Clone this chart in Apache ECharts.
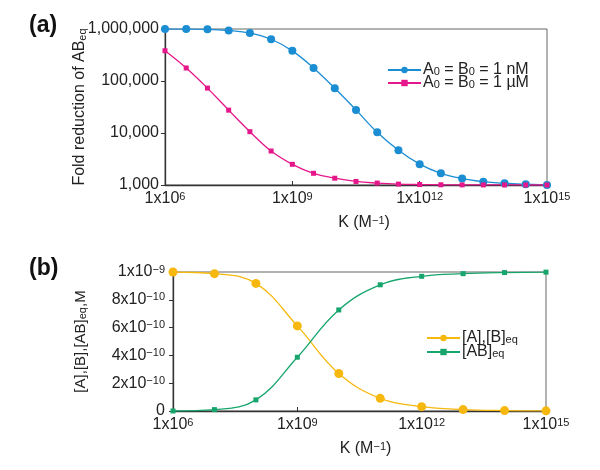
<!DOCTYPE html>
<html>
<head>
<meta charset="utf-8">
<script src="https://cdn.jsdelivr.net/npm/echarts@6/dist/echarts.min.js"></script>
<style>html,body{margin:0;padding:0;background:#fff}#c{width:600px;height:470px}</style>
</head>
<body>
<div id="c"></div>
<script>
// Panel (a): K values (M^-1), half-decade steps
var kA = [1e6, 3.162e6, 1e7, 3.162e7, 1e8, 3.162e8, 1e9, 3.162e9, 1e10, 3.162e10, 1e11, 3.162e11, 1e12, 3.162e12, 1e13, 3.162e13, 1e14, 3.162e14, 1e15];
var foldNM = [999000, 996000, 985000, 935000, 835000, 635000, 380000, 178000, 72500, 27800, 10300, 4650, 2520, 1680, 1330, 1160, 1080, 1035, 1005];
var foldUM = [382000, 178000, 73000, 27500, 10600, 4500, 2500, 1680, 1350, 1170, 1090, 1040, 1020, 1010, 1005, 1003, 1002, 1001, 1000];
// Panel (b): K values, decade steps
var kB = [1e6, 1e7, 1e8, 1e9, 1e10, 1e11, 1e12, 1e13, 1e14, 1e15];
var freeAB = [1.0e-9, 0.988e-9, 0.918e-9, 0.612e-9, 0.27e-9, 0.091e-9, 0.031e-9, 0.01e-9, 0.003e-9, 0.001e-9];
var boundAB = [0, 0.01e-9, 0.08e-9, 0.387e-9, 0.727e-9, 0.908e-9, 0.969e-9, 0.988e-9, 0.996e-9, 0.999e-9];
var yTicksA = [1000, 10000, 100000, 1000000];
var namesA = ['A{sub|0} = B{sub|0} = 1 nM', 'A{sub|0} = B{sub|0} = 1 \u00b5M'];
var namesB = ['[A],[B]{sub|eq}', '[AB]{sub|eq}'];

function pairs(xs, ys) { return xs.map(function (x, i) { return [x, ys[i]]; }); }

var FONT = '"Liberation Sans", Arial, Helvetica, sans-serif';
var rich = {
  sup: { fontSize: 11, fontFamily: FONT, color: '#222', verticalAlign: 'top', lineHeight: 6 },
  sub: { fontSize: 11, fontFamily: FONT, color: '#222', verticalAlign: 'bottom', lineHeight: 4 }
};
var base = { fontSize: 16, fontFamily: FONT, color: '#222' };
function lbl(extra) { var o = Object.assign({}, base, { rich: rich }); return Object.assign(o, extra || {}); }

var chart = echarts.init(document.getElementById('c'), null, { renderer: 'canvas' });
var axisLine = { show: true, lineStyle: { color: '#333', width: 1.3 } };

chart.setOption({
  animation: false,
  backgroundColor: '#fff',
  title: [
    { text: '(a)', left: 24, top: 9, textStyle: { fontSize: 23, fontWeight: 'bold', fontFamily: FONT, color: '#111' } },
    { text: '(b)', left: 24, top: 252, textStyle: { fontSize: 23, fontWeight: 'bold', fontFamily: FONT, color: '#111' } }
  ],
  grid: [
    { left: 165, right: 53, top: 29, height: 156, show: true, borderColor: '#666', borderWidth: 1 },
    { left: 173, right: 54, top: 272, height: 139, show: true, borderColor: '#666', borderWidth: 1 }
  ],
  legend: [
    { orient: 'vertical', left: 382, top: 57, itemWidth: 33, itemHeight: 8, itemGap: -3,
      data: namesA, textStyle: lbl({ lineHeight: 14, padding: [0, 0, 0, -3] }) },
    { orient: 'vertical', left: 421, top: 325, itemWidth: 33, itemHeight: 8, itemGap: -2,
      data: namesB, textStyle: lbl({ lineHeight: 14, padding: [0, 0, 0, -3] }) }
  ],
  xAxis: [
    { type: 'log', logBase: 1000, gridIndex: 0, min: kA[0], max: kA[kA.length - 1],
      axisLine: axisLine, axisTick: { inside: true, length: 4, lineStyle: { color: '#333' } },
      splitLine: { show: false },
      axisLabel: Object.assign(lbl({ lineHeight: 16 }), { margin: 6, formatter: function (v) { return '1x10{sup|' + Math.round(Math.log10(v)) + '}'; } }),
      name: 'K (M{sup|\u22121})', nameLocation: 'middle', nameGap: 30, nameMoveOverlap: false,
      nameTextStyle: lbl({ lineHeight: 16, padding: [0, 0, 0, 16] }) },
    { type: 'log', logBase: 1000, gridIndex: 1, min: kB[0], max: kB[kB.length - 1],
      axisLine: axisLine, axisTick: { inside: true, length: 4, lineStyle: { color: '#333' } },
      splitLine: { show: false },
      axisLabel: Object.assign(lbl({ lineHeight: 16 }), { margin: 6, formatter: function (v) { return '1x10{sup|' + Math.round(Math.log10(v)) + '}'; } }),
      name: 'K (M{sup|\u22121})', nameLocation: 'middle', nameGap: 30, nameMoveOverlap: false,
      nameTextStyle: lbl({ lineHeight: 16, padding: [0, 0, 0, 12] }) }
  ],
  yAxis: [
    { type: 'log', logBase: 10, gridIndex: 0, min: yTicksA[0], max: yTicksA[yTicksA.length - 1],
      axisLine: axisLine, axisTick: { show: true, length: 4, lineStyle: { color: '#333' } },
      splitLine: { show: false },
      axisLabel: Object.assign(lbl(), { margin: 6, formatter: function (v) { return Math.round(v).toLocaleString('en-US'); } }),
      name: 'Fold reduction of AB{sub|eq}', nameLocation: 'middle', nameGap: 77, nameRotate: 90, nameMoveOverlap: false,
      nameTextStyle: lbl({ lineHeight: 16 }) },
    { type: 'value', gridIndex: 1, min: 0, max: 1e-9, interval: 2e-10,
      axisLine: axisLine, axisTick: { show: true, length: 4, lineStyle: { color: '#333' } },
      splitLine: { show: false },
      axisLabel: Object.assign(lbl({ lineHeight: 16 }), { margin: 8, formatter: function (v) {
        var n = Math.round(v * 1e10);
        if (n === 0) return '0';
        if (n === 10) return '1x10{sup|\u22129}';
        return n + 'x10{sup|\u221210}';
      } }),
      name: '[A],[B],[AB]{sub|eq},M', nameLocation: 'middle', nameGap: 85, nameRotate: 90, nameMoveOverlap: false,
      nameTextStyle: lbl({ fontSize: 15, lineHeight: 15 }) }
  ],
  series: [
    { name: namesA[0], type: 'line', xAxisIndex: 0, yAxisIndex: 0, data: pairs(kA, foldNM),
      smooth: 0.4, symbol: 'circle', symbolSize: 8, showAllSymbol: true,
      itemStyle: { color: '#1a8dd3' }, lineStyle: { color: '#1a8dd3', width: 1.3 } },
    { name: namesA[1], type: 'line', xAxisIndex: 0, yAxisIndex: 0, data: pairs(kA, foldUM),
      smooth: 0.4, symbol: 'rect', symbolSize: 5, showAllSymbol: true,
      itemStyle: { color: '#e6178a' }, lineStyle: { color: '#e6178a', width: 1.3 } },
    { name: namesB[0], type: 'line', xAxisIndex: 1, yAxisIndex: 1, data: pairs(kB, freeAB),
      smooth: 0.4, symbol: 'circle', symbolSize: 9, showAllSymbol: true,
      itemStyle: { color: '#f6b80f' }, lineStyle: { color: '#f6b80f', width: 1.3 } },
    { name: namesB[1], type: 'line', xAxisIndex: 1, yAxisIndex: 1, data: pairs(kB, boundAB),
      smooth: 0.4, symbol: 'rect', symbolSize: 5, showAllSymbol: true,
      itemStyle: { color: '#16a56c' }, lineStyle: { color: '#16a56c', width: 1.3 } }
  ]
});
</script>
</body>
</html>
